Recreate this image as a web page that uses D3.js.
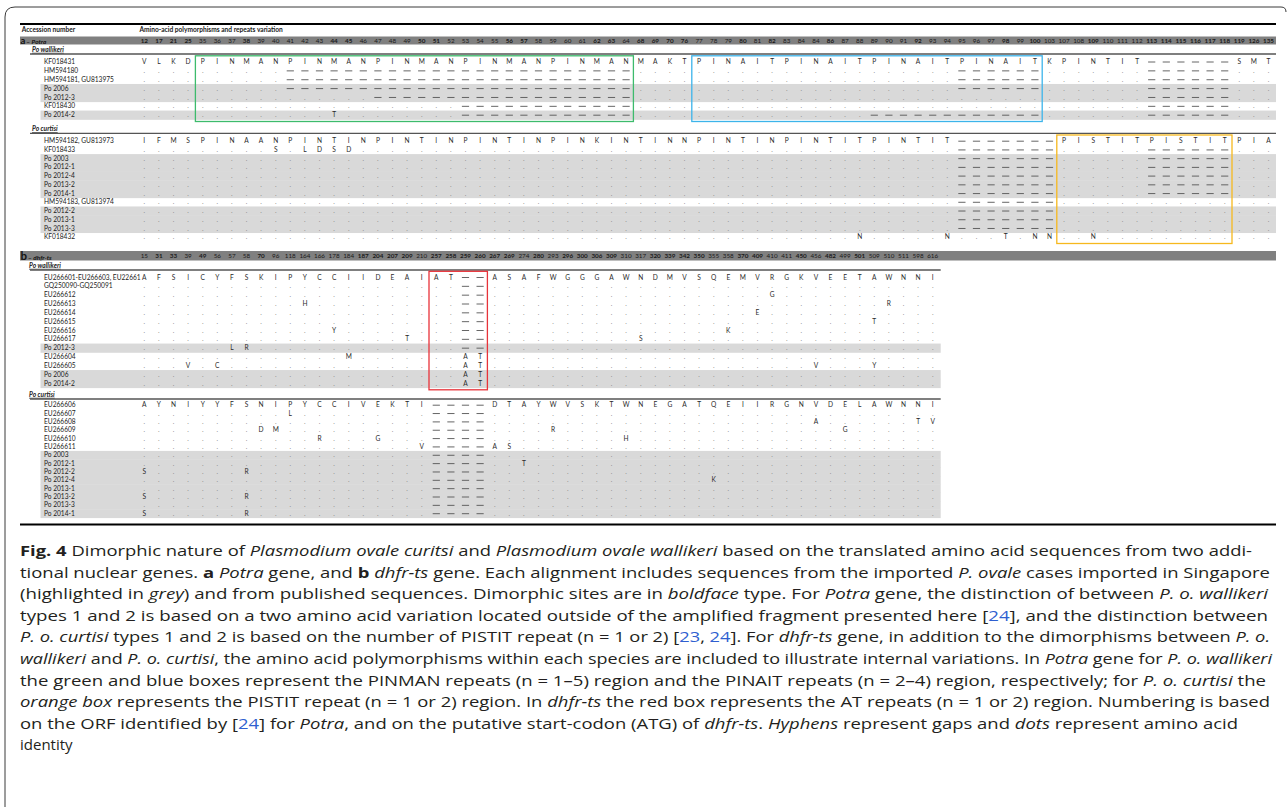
<!DOCTYPE html>
<html>
<head>
<meta charset="utf-8">
<script src="https://cdn.jsdelivr.net/npm/d3@7"></script>
<style>
  body { margin: 0; background: #fff; }
  svg { display: block; }
</style>
</head>
<body>
<div id="chart"></div>
<script>
// ---- data: column numbers (a = Potra, b = dhfr-ts)
const potraPositions = ["12","17","21","25","35","36","37","38","39","40","41","42","43","44","45","46","47","48","49","50",
  "51","52","53","54","55","56","57","58","59","60","61","62","63","64","68","69","70","76","77","78","79","80","81","82",
  "83","84","84","86","87","88","89","90","91","92","93","94","95","96","97","98","99","100","103","107","108","109","110",
  "111","112","113","114","115","116","117","118","119","126","135"];
const potraBold = ["12","17","21","25","38","44","45","50","51","56","57","62","63","68","69","70","76","80","82","86",
  "92","98","100","109","113","114","115","116","117","118","119","126","135"];

const dhfrPositions = ["15","31","33","39","49","56","57","58","70","96","118","164","166","178","184","187","204","207",
  "209","210","257","258","259","260","267","269","274","280","293","296","300","306","309","310","317","320","339","342",
  "350","355","358","370","409","410","411","450","456","482","499","501","509","510","511","598","616"];
const dhfrBold = ["31","33","49","70","187","204","207","209","257","258","259","260","267","269","280","296","300","306",
  "309","320","339","342","350","370","409","450","482","501"];

// ---- data: alignments ("." identity, "-" gap)
const potraWallikeri = [
  ["KF018431", "VLKD" + "PINMANPINMANPINMANPINMANPINMAN" + "MAKT" + "PINAITPINAITPINAITPINAIT" + "KPINTIT" + "------" + "SMT"],
  ["HM594180", "...." + "......------------------------" + "...." + "..................------" + "......." + "------" + "..."],
  ["HM594181, GU813975", "...." + "......------------------------" + "...." + "..................------" + "......." + "------" + "..."],
  ["Po 2006", "...." + "......------------------------" + "...." + "..................------" + "......." + "------" + "..."],
  ["Po 2012-3", "...." + "............------------------" + "...." + "........................" + "......." + "------" + "..."],
  ["KF018430", "...." + "..................------------" + "...." + "........................" + "......." + "------" + "..."],
  ["Po 2014-2", "...." + ".........T........------------" + "...." + "............------------" + "......." + "------" + "..."]
];

const potraCurtisi = [
  ["HM594182, GU813973", "IFMSPINAANPINTINPINT" + "INPINTINPINKINTINNPINTINPINTIT" + "PINTIT" + "-------" + "PISTITPISTIT" + "PIA"],
  ["KF018433", ".........S.LDSD....." + ".............................." + "......" + "-------" + "......------" + "..."],
  ["Po 2003", "...................." + ".............................." + "......" + "-------" + "......------" + "..."],
  ["Po 2012-1", "...................." + ".............................." + "......" + "-------" + "......------" + "..."],
  ["Po 2012-4", "...................." + ".............................." + "......" + "-------" + "......------" + "..."],
  ["Po 2013-2", "...................." + ".............................." + "......" + "-------" + "......------" + "..."],
  ["Po 2014-1", "...................." + ".............................." + "......" + "-------" + "......------" + "..."],
  ["HM594183, GU813974", "...................." + ".............................." + "......" + "-------" + "............" + "..."],
  ["Po 2012-2", "...................." + ".............................." + "......" + "-------" + "............" + "..."],
  ["Po 2013-1", "...................." + ".............................." + "......" + "-------" + "............" + "..."],
  ["Po 2013-3", "...................." + ".............................." + "......" + "-------" + "............" + "..."],
  ["KF018432", "...................." + ".............................N" + ".....N" + "...T.NN" + "..N........." + "..."]
];

const dhfrWallikeri = [
  ["EU266601-EU266603, EU22661", "AFSICYFSKI" + "PYCCIIDEAI" + "AT--ASAFWG" + "GGAWNDMVSQ" + "EMVRGKVEET" + "AWNNI"],
  ["GQ250090-GQ250091", ".........." + ".........." + "..--......" + ".........." + ".........." + "....."],
  ["EU266612", ".........." + ".........." + "..--......" + ".........." + "...G......" + "....."],
  ["EU266613", ".........." + ".H........" + "..--......" + ".........." + ".........." + ".R..."],
  ["EU266614", ".........." + ".........." + "..--......" + ".........." + "..E......." + "....."],
  ["EU266615", ".........." + ".........." + "..--......" + ".........." + ".........." + "T...."],
  ["EU266616", ".........." + "...Y......" + "..--......" + ".........." + "K........." + "....."],
  ["EU266617", ".........." + "........T." + "..--......" + "....S....." + ".........." + "....."],
  ["Po 2012-3", "......LR.." + ".........." + "..--......" + ".........." + ".........." + "....."],
  ["EU266604", ".........." + "....M....." + "..AT......" + ".........." + ".........." + "....."],
  ["EU266605", "...V.C...." + ".........." + "..AT......" + ".........." + "......V..." + "Y...."],
  ["Po 2006", ".........." + ".........." + "..AT......" + ".........." + ".........." + "....."],
  ["Po 2014-2", ".........." + ".........." + "..AT......" + ".........." + ".........." + "....."]
];

const dhfrCurtisi = [
  ["EU266606", "AYNIYYFSNI" + "PYCCIVEKTI" + "----DTAYWV" + "SKTWNEGATQ" + "EIIRGNVDEL" + "AWNNI"],
  ["EU266607", ".........." + "L........." + "----......" + ".........." + ".........." + "....."],
  ["EU266608", ".........." + ".........." + "----......" + ".........." + "......A..." + "...TV"],
  ["EU266609", "........DM" + ".........." + "----....R." + ".........." + "........G." + "....."],
  ["EU266610", ".........." + "..R...G..." + "----......" + "...H......" + ".........." + "....."],
  ["EU266611", ".........." + ".........V" + "----AS...." + ".........." + ".........." + "....."],
  ["Po 2003", ".........." + ".........." + "----......" + ".........." + ".........." + "....."],
  ["Po 2012-1", ".........." + ".........." + "----..T..." + ".........." + ".........." + "....."],
  ["Po 2012-2", "S......R.." + ".........." + "----......" + ".........." + ".........." + "....."],
  ["Po 2012-4", ".........." + ".........." + "----......" + ".........K" + ".........." + "....."],
  ["Po 2013-1", ".........." + ".........." + "----......" + ".........." + ".........." + "....."],
  ["Po 2013-2", "S......R.." + ".........." + "----......" + ".........." + ".........." + "....."],
  ["Po 2013-3", ".........." + ".........." + "----......" + ".........." + ".........." + "....."],
  ["Po 2014-1", "S......R.." + ".........." + "----......" + ".........." + ".........." + "....."]
];

// repeat regions, as column index ranges
const potraRepeatBoxes = [
  { name: "PINMAN", group: "wallikeri", from: 4, to: 33 },
  { name: "PINAIT", group: "wallikeri", from: 38, to: 61 },
  { name: "PISTIT", group: "curtisi", from: 63, to: 74 }
];
const dhfrRepeatBoxes = [
  { name: "AT", group: "wallikeri", from: 20, to: 23 }
];

// caption lines: [text, style]  (b bold, i italic, l link)
const captionLines = [
  [["Fig. 4", "b"], ["  Dimorphic nature of ", ""], ["Plasmodium ovale curitsi", "i"], [" and ", ""], ["Plasmodium ovale wallikeri", "i"], [" based on the translated amino acid sequences from two addi-", ""]],
  [["tional nuclear genes. ", ""], ["a", "b"], [" ", ""], ["Potra", "i"], [" gene, and ", ""], ["b", "b"], [" ", ""], ["dhfr-ts", "i"], [" gene. Each alignment includes sequences from the imported ", ""], ["P. ovale", "i"], [" cases imported in Singapore", ""]],
  [["(highlighted in ", ""], ["grey", "i"], [") and from published sequences. Dimorphic sites are in ", ""], ["boldface", "i"], [" type. For ", ""], ["Potra", "i"], [" gene, the distinction of between ", ""], ["P. o. wallikeri", "i"]],
  [["types 1 and 2 is based on a two amino acid variation located outside of the amplified fragment presented here [", ""], ["24", "l"], ["], and the distinction between", ""]],
  [["P. o. curtisi", "i"], [" types 1 and 2 is based on the number of PISTIT repeat (n = 1 or 2) [", ""], ["23", "l"], [", ", ""], ["24", "l"], ["]. For ", ""], ["dhfr-ts", "i"], [" gene, in addition to the dimorphisms between ", ""], ["P. o.", "i"]],
  [["wallikeri", "i"], [" and ", ""], ["P. o. curtisi", "i"], [", the amino acid polymorphisms within each species are included to illustrate internal variations. In ", ""], ["Potra", "i"], [" gene for ", ""], ["P. o. wallikeri", "i"]],
  [["the green and blue boxes represent the PINMAN repeats (n = 1–5) region and the PINAIT repeats (n = 2–4) region, respectively; for ", ""], ["P. o. curtisi", "i"], [" the", ""]],
  [["orange box", "i"], [" represents the PISTIT repeat (n = 1 or 2) region. In ", ""], ["dhfr-ts", "i"], [" the red box represents the AT repeats (n = 1 or 2) region. Numbering is based", ""]],
  [["on the ORF identified by [", ""], ["24", "l"], ["] for ", ""], ["Potra", "i"], [", and on the putative start-codon (ATG) of ", ""], ["dhfr-ts", "i"], [". ", ""], ["Hyphens", "i"], [" represent gaps and ", ""], ["dots", "i"], [" represent amino acid", ""]],
  [["identity", ""]]
];
const captionRightEdge = [1252, 1270, 1268, 1268, 1270, 1272, 1266, 1270, 1238, null];

// ---- drawing
const width = 1287, height = 807;
const tableFont = "Lato, 'Liberation Sans', sans-serif";

const svg = d3.select('#chart').append('svg')
  .attr('width', width)
  .attr('height', height);

// frame of the figure panel
svg.append('path')
  .attr('d', 'M5,807 L5,17 Q5,7 15,7 L1281,7 Q1286,7 1286,12')
  .attr('fill', 'none')
  .attr('stroke', '#3a3a3a')
  .attr('stroke-width', 1);

const colX = d3.scaleLinear().domain([0, 77]).range([144.3, 144.3 + 77 * 14.6]);
const tableLeft = 20, tableRight = 1276;

const boxColor = { PINMAN: '#3dbb6c', PINAIT: '#3cb4ea', PISTIT: '#f6b81e', AT: '#e8333a' };

// header
svg.append('line')
  .attr('x1', tableLeft).attr('x2', tableRight).attr('y1', 24).attr('y2', 24)
  .attr('stroke', '#000').attr('stroke-width', 2);

svg.append('text').attr('x', 21.7).attr('y', 32.3)
  .attr('font-family', tableFont).attr('font-size', 6.6).attr('font-weight', 700).attr('fill', '#222')
  .text('Accession number');
svg.append('text').attr('x', 139.5).attr('y', 32.3)
  .attr('font-family', tableFont).attr('font-size', 6.6).attr('font-weight', 700).attr('fill', '#222')
  .text('Amino-acid polymorphisms and repeats variation');

function drawBar(y0, h, letter, gene, positions, bold, xEnd) {
  const bar = svg.append('g');
  bar.append('rect')
    .attr('x', tableLeft).attr('y', y0).attr('width', tableRight - tableLeft).attr('height', h)
    .attr('fill', '#808080');
  const t = bar.append('text')
    .attr('x', 20.5).attr('y', y0 + h - 1)
    .attr('font-family', tableFont).attr('fill', '#111');
  t.append('tspan').attr('font-size', letter === 'b' ? 11.5 : 9.5).attr('font-weight', 700).text(letter);
  t.append('tspan').attr('font-size', 6.4).attr('font-weight', 700).attr('dx', 1).text('– ');
  t.append('tspan').attr('font-size', 6.4).attr('font-weight', 700).attr('font-style', 'italic').text(gene);

  bar.selectAll('text.pos')
    .data(positions)
    .join('text')
    .attr('class', 'pos')
    .attr('x', (d, i) => colX(i))
    .attr('y', y0 + h / 2 + 2.2)
    .attr('text-anchor', 'middle')
    .attr('font-family', tableFont)
    .attr('font-size', 6.3)
    .attr('font-weight', d => bold.includes(d) ? 700 : 400)
    .attr('fill', '#1a1a1a')
    .text(d => d);
}

function drawGroup(title, titleX, lineY, lineEnd, rows, yScale, step, greyEnd) {
  const g = svg.append('g');
  g.append('text')
    .attr('x', titleX).attr('y', lineY - 2.2)
    .attr('font-family', tableFont).attr('font-size', 6.6)
    .attr('font-weight', 700).attr('font-style', 'italic')
    .attr('text-decoration', 'underline')
    .attr('fill', '#222')
    .text(title);
  g.append('line')
    .attr('x1', 30).attr('x2', lineEnd).attr('y1', lineY).attr('y2', lineY)
    .attr('stroke', '#555').attr('stroke-width', 1.3);

  rows.forEach((r, ri) => {
    const cy = yScale(ri);
    if (r[0].startsWith('Po ')) {
      g.append('rect')
        .attr('x', 40.5).attr('y', cy - step / 2).attr('width', greyEnd - 40.5).attr('height', step + 0.4)
        .attr('fill', '#d9d9d9');
    }
  });

  rows.forEach((r, ri) => {
    const cy = yScale(ri);
    const row = g.append('g');
    row.append('text')
      .attr('x', 44).attr('y', cy + 2.3)
      .attr('font-family', tableFont).attr('font-size', 6.6).attr('fill', '#1a1a1a')
      .text(r[0]);

    const cells = r[1].split('').map((c, i) => ({ c, i }));
    row.selectAll('line.gap')
      .data(cells.filter(d => d.c === '-'))
      .join('line')
      .attr('class', 'gap')
      .attr('x1', d => colX(d.i) - 3.6).attr('x2', d => colX(d.i) + 3.6)
      .attr('y1', cy + 0.2).attr('y2', cy + 0.2)
      .attr('stroke', '#555').attr('stroke-width', 0.9);
    row.selectAll('text.aa')
      .data(cells.filter(d => d.c !== '-'))
      .join('text')
      .attr('class', 'aa')
      .attr('x', d => colX(d.i))
      .attr('y', cy + 2.3)
      .attr('text-anchor', 'middle')
      .attr('font-family', tableFont)
      .attr('font-size', 6.6)
      .attr('fill', d => d.c === '.' ? '#8a8a8a' : '#2a2a2a')
      .text(d => d.c);
  });
}

function drawBoxes(boxes, groupRows) {
  boxes.forEach(b => {
    const gr = groupRows[b.group];
    svg.append('rect')
      .attr('x', colX(b.from) - 7.3)
      .attr('y', gr.y(0) - 6)
      .attr('width', colX(b.to) - colX(b.from) + 14.6)
      .attr('height', gr.y(gr.n - 1) - gr.y(0) + 12.5)
      .attr('fill', 'none')
      .attr('stroke', boxColor[b.name])
      .attr('stroke-width', 1.3);
  });
}

// ---- a: Potra
drawBar(36.5, 8, 'a', 'Potra', potraPositions, potraBold);

const yAW = d3.scaleLinear().domain([0, potraWallikeri.length - 1]).range([61.8, 115]);
const yAC = d3.scaleLinear().domain([0, potraCurtisi.length - 1]).range([141, 237]);
drawGroup('Po wallikeri', 32, 54, tableRight, potraWallikeri, yAW, 8.87, tableRight);
drawGroup('Po curtisi', 32, 133.3, tableRight, potraCurtisi, yAC, 8.73, tableRight);
drawBoxes(potraRepeatBoxes, {
  wallikeri: { y: yAW, n: potraWallikeri.length },
  curtisi: { y: yAC, n: potraCurtisi.length }
});

// ---- b: dhfr-ts
const bEnd = colX(dhfrPositions.length - 1) + 8;
drawBar(251, 9.5, 'b', 'dhfr-ts', dhfrPositions, dhfrBold);

const yBW = d3.scaleLinear().domain([0, dhfrWallikeri.length - 1]).range([277.3, 383.3]);
const yBC = d3.scaleLinear().domain([0, dhfrCurtisi.length - 1]).range([405, 513.5]);
drawGroup('Po wallikeri', 29, 270, bEnd, dhfrWallikeri, yBW, 8.83, bEnd);
drawGroup('Po curtisi', 29, 399, bEnd, dhfrCurtisi, yBC, 8.35, bEnd);
drawBoxes(dhfrRepeatBoxes, {
  wallikeri: { y: yBW, n: dhfrWallikeri.length }
});

svg.append('line')
  .attr('x1', tableLeft).attr('x2', tableRight).attr('y1', 524.5).attr('y2', 524.5)
  .attr('stroke', '#000').attr('stroke-width', 2);

// ---- caption
const cap = svg.append('g')
  .attr('font-family', "'Open Sans', 'Noto Sans', sans-serif")
  .attr('font-size', 15)
  .attr('fill', '#231f20');

captionLines.forEach((segs, li) => {
  const t = cap.append('text')
    .attr('x', 20)
    .attr('y', 556 + li * 21.6);
  if (captionRightEdge[li]) {
    t.attr('textLength', captionRightEdge[li] - 20).attr('lengthAdjust', 'spacingAndGlyphs');
  }
  segs.forEach(([txt, st]) => {
    const s = t.append('tspan').text(txt);
    if (st === 'b') s.attr('font-weight', 700);
    if (st === 'i') s.attr('font-style', 'italic');
    if (st === 'l') s.attr('fill', '#2f5fd0');
  });
});
</script>
</body>
</html>
